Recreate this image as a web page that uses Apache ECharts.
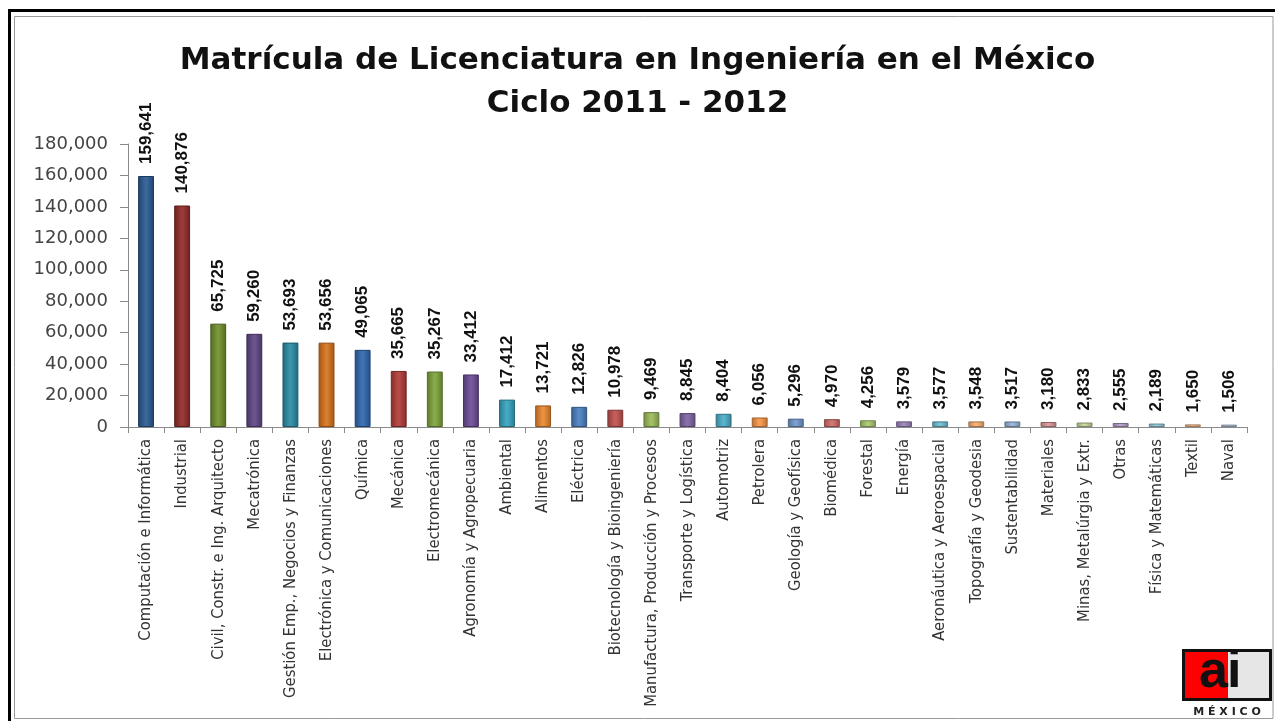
<!DOCTYPE html>
<html>
<head>
<meta charset="utf-8">
<script src="https://cdn.jsdelivr.net/npm/echarts@6/dist/echarts.min.js"></script>
<style>
  html, body { margin: 0; padding: 0; background: #fff; }
  #chart { width: 1275px; height: 721px; }
</style>
</head>
<body>
<div id="chart"></div>
<script>
// categorias (carreras) y matricula 2011-2012
var categories = [
    'Computación e Informática', 'Industrial', 'Civil, Constr. e Ing. Arquitecto', 'Mecatrónica',
    'Gestión Emp., Negocios y Finanzas', 'Electrónica y Comunicaciones', 'Química', 'Mecánica',
    'Electromecánica', 'Agronomía y Agropecuaria', 'Ambiental', 'Alimentos', 'Eléctrica',
    'Biotecnología y Bioingeniería', 'Manufactura, Producción y Procesos', 'Transporte y Logística',
    'Automotriz', 'Petrolera', 'Geología y Geofísica', 'Biomédica', 'Forestal', 'Energía',
    'Aeronáutica y Aeroespacial', 'Topografía y Geodesia', 'Sustentabilidad', 'Materiales',
    'Minas, Metalúrgia y Extr.', 'Otras', 'Física y Matemáticas', 'Textil', 'Naval'
];
var matricula = [
    159641, 140876, 65725, 59260, 53693, 53656, 49065, 35665, 35267, 33412,
    17412, 13721, 12826, 10978, 9469, 8845, 8404, 6056, 5296, 4970,
    4256, 3579, 3577, 3548, 3517, 3180, 2833, 2555, 2189, 1650, 1506
];
var yTicks = [0, 180000, 20000]; // min, max, interval

// colores por barra (paleta de Excel, de oscuro a claro)
var barColors = [
    '#2a5a92', '#902b28', '#6f8e2c', '#5e4584', '#2a8ba5', '#d5721b',
    '#2f67ad', '#b03a37', '#7da33a', '#6b4c95', '#35a3bf', '#e8862e',
    '#4a7fc1', '#c0504d', '#9bbb59', '#8064a2', '#4bacc6', '#f79646',
    '#6f97cc', '#cf6b69', '#abc96e', '#9a84b8', '#6ebed3', '#f9ad6c',
    '#95b3d7', '#da9694', '#c4d79b', '#b1a0c7', '#92cddc', '#fabf8f', '#b8cce4'
];

function shade(hex, f) {
    var n = parseInt(hex.slice(1), 16);
    var r = n >> 16, g = (n >> 8) & 255, b = n & 255;
    function c(v) {
        v = f < 0 ? v * (1 + f) : v + (255 - v) * f;
        return Math.round(Math.max(0, Math.min(255, v)));
    }
    return 'rgb(' + c(r) + ',' + c(g) + ',' + c(b) + ')';
}

function fmt(v) {
    return String(v).replace(/\B(?=(\d{3})+(?!\d))/g, ',');
}

var data = matricula.map(function (v, i) {
    var base = barColors[i];
    return {
        value: v,
        itemStyle: {
            color: new echarts.graphic.LinearGradient(0, 0, 1, 0, [
                { offset: 0, color: shade(base, -0.25) },
                { offset: 0.45, color: shade(base, 0.08) },
                { offset: 0.55, color: shade(base, 0.08) },
                { offset: 1, color: shade(base, -0.25) }
            ]),
            borderColor: shade(base, -0.35),
            borderWidth: 1
        }
    };
});

var myChart = echarts.init(document.getElementById('chart'), null, { renderer: 'canvas' });

var option = {
    backgroundColor: '#fff',
    animation: false,
    title: {
        text: 'Matrícula de Licenciatura en Ingeniería en el México\nCiclo 2011 - 2012',
        left: 'center',
        top: 34,
        textStyle: {
            fontFamily: 'DejaVu Sans',
            fontWeight: 'bold',
            fontSize: 31,
            lineHeight: 43,
            color: '#111'
        }
    },
    grid: {
        left: 128,
        right: 28,
        top: 144,
        bottom: 294,
        containLabel: false
    },
    xAxis: {
        type: 'category',
        data: categories,
        axisLine: { lineStyle: { color: '#8a8a8a', width: 1 } },
        axisTick: { show: true, alignWithLabel: false, length: 6, lineStyle: { color: '#8a8a8a' } },
        axisLabel: {
            rotate: 90,
            interval: 0,
            margin: 12,
            fontFamily: 'Liberation Sans Narrow, DejaVu Sans Condensed, sans-serif',
            fontSize: 16.5,
            color: '#333'
        }
    },
    yAxis: {
        type: 'value',
        min: yTicks[0],
        max: yTicks[1],
        interval: yTicks[2],
        axisLine: { show: true, lineStyle: { color: '#8a8a8a', width: 1 } },
        axisTick: { show: true, inside: false, length: 8, lineStyle: { color: '#8a8a8a' } },
        splitLine: { show: false },
        axisLabel: {
            margin: 20,
            fontFamily: 'DejaVu Sans',
            fontSize: 18,
            color: '#444',
            formatter: fmt
        }
    },
    series: [
        {
            type: 'bar',
            barWidth: '44%',
            data: data,
            label: {
                show: true,
                position: 'top',
                rotate: 90,
                align: 'left',
                verticalAlign: 'middle',
                distance: 12,
                fontFamily: 'Liberation Sans',
                fontWeight: 'bold',
                fontSize: 17,
                color: '#111',
                formatter: function (p) { return fmt(p.value); }
            }
        }
    ],
    graphic: [
        // marco exterior negro y borde gris
        { type: 'rect', shape: { x: 9.5, y: 10.5, width: 1280, height: 720 }, style: { fill: null, stroke: '#000', lineWidth: 3 }, z: 10 },
        { type: 'rect', shape: { x: 14.5, y: 16.5, width: 1258.5, height: 702 }, style: { fill: null, stroke: '#9a9a9a', lineWidth: 1 }, z: 10 },
        // logo
        {
            type: 'group',
            left: 1182,
            top: 647,
            z: 20,
            children: [
                { type: 'rect', shape: { x: 0, y: 0, width: 90, height: 52 }, style: { fill: '#fff' } },
                { type: 'rect', shape: { x: 1.5, y: 1.5, width: 87, height: 49 }, style: { fill: '#e6e6e6', stroke: '#111', lineWidth: 3 } },
                { type: 'rect', shape: { x: 3, y: 3, width: 43, height: 46 }, style: { fill: '#f00' } },
                { type: 'text', x: 17, y: 50, style: { text: 'a', font: 'bold 52px "Liberation Sans"', fill: '#111', textVerticalAlign: 'bottom' } },
                { type: 'text', x: 45, y: 50, style: { text: 'i', font: 'bold 52px "Liberation Sans"', fill: '#111', textVerticalAlign: 'bottom' } },
                { type: 'text', x: 45, y: 63, style: { text: 'M É X I C O', font: 'bold 11px "DejaVu Sans"', fill: '#222', textAlign: 'center', textVerticalAlign: 'middle' } }
            ]
        }
    ]
};

if (option && typeof option === 'object') {
    myChart.setOption(option);
    window.addEventListener('resize', function () {
        myChart.resize();
    });
}
</script>
</body>
</html>
